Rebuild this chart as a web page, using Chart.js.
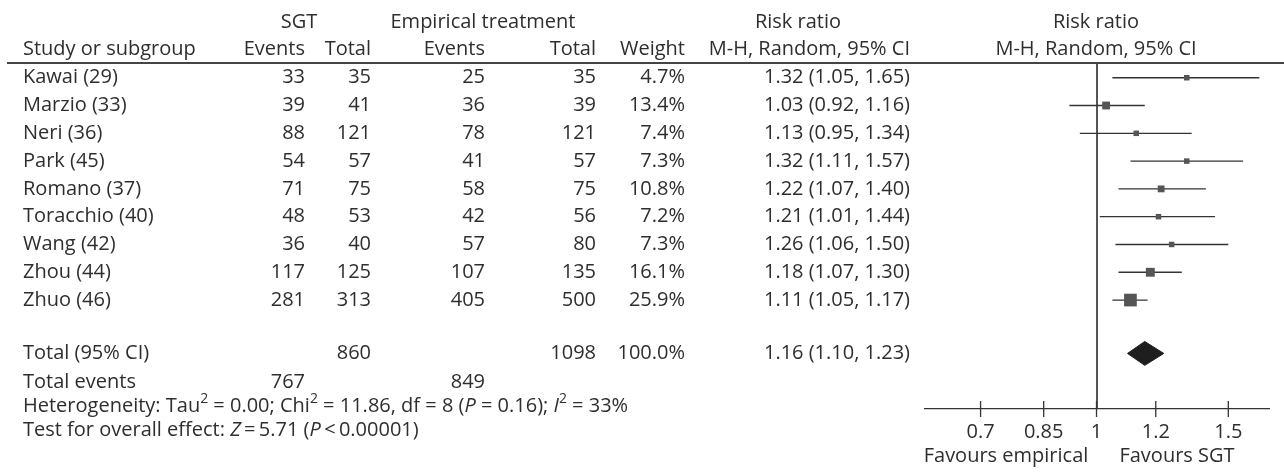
<!DOCTYPE html>
<html>
<head>
<meta charset="utf-8">
<script src="https://cdn.jsdelivr.net/npm/chart.js@4.4.1/dist/chart.umd.min.js"></script>
<style>
  html, body { margin: 0; padding: 0; background: #fff; }
</style>
</head>
<body>
<canvas id="forest" width="1284" height="472"></canvas>
<script>
// study rows
const studies = ['Kawai (29)', 'Marzio (33)', 'Neri (36)', 'Park (45)', 'Romano (37)',
  'Toracchio (40)', 'Wang (42)', 'Zhou (44)', 'Zhuo (46)'];
const sgtEvents = [33, 39, 88, 54, 71, 48, 36, 117, 281];
const sgtTotal = [35, 41, 121, 57, 75, 53, 40, 125, 313];
const empEvents = [25, 36, 78, 41, 58, 42, 57, 107, 405];
const empTotal = [35, 39, 121, 57, 75, 56, 80, 135, 500];
const weights = [4.7, 13.4, 7.4, 7.3, 10.8, 7.2, 7.3, 16.1, 25.9];
const riskRatio = [1.32, 1.03, 1.13, 1.32, 1.22, 1.21, 1.26, 1.18, 1.11];
const ciLow = [1.05, 0.92, 0.95, 1.11, 1.07, 1.01, 1.06, 1.07, 1.05];
const ciHigh = [1.65, 1.16, 1.34, 1.57, 1.40, 1.44, 1.50, 1.30, 1.17];

// pooled result: [rr, low, high], totals
const pooled = [1.16, 1.10, 1.23];
const totals = [860, 1098];
const totalEvents = [767, 849];

const xTicks = [0.7, 0.85, 1, 1.2, 1.5];

const FONT = '"Open Sans", sans-serif';
const TEXT = '#2e2e2e';
const TOTAL_ROW = 10.92;   // y value of the pooled row
const Y_MIN = 0.47, Y_MAX = 12.92;

const fmt2 = v => v.toFixed(2);
const ciText = (r, l, h) => fmt2(r) + ' (' + fmt2(l) + ', ' + fmt2(h) + ')';

// draw a line of text made of plain / italic / superscript pieces
function drawRich(ctx, parts, x, y) {
  parts.forEach(([txt, st]) => {
    ctx.font = (st === 'i' ? 'italic ' : '') + (st === 's' ? '14px ' : '20px ') + FONT;
    ctx.fillText(txt, x, st === 's' ? y - 7 : y);
    x += ctx.measureText(txt).width;
  });
}

const tablePlugin = {
  id: 'tableText',
  afterDraw(chart) {
    const ctx = chart.ctx;
    const y = chart.scales.y;
    const area = chart.chartArea;
    ctx.save();
    ctx.fillStyle = TEXT;
    ctx.textBaseline = 'middle';
    ctx.font = '20px ' + FONT;

    const txt = (s, x, yy, align) => { ctx.textAlign = align; ctx.fillText(s, x, yy); };

    // header
    const h1 = 22, h2 = 49;
    txt('SGT', 299, h1, 'center');
    txt('Empirical treatment', 483, h1, 'center');
    txt('Risk ratio', 798, h1, 'center');
    txt('Risk ratio', area.left + 171, h1, 'center');
    txt('Study or subgroup', 23, h2, 'left');
    txt('Events', 305, h2, 'right');
    txt('Total', 371, h2, 'right');
    txt('Events', 485, h2, 'right');
    txt('Total', 596, h2, 'right');
    txt('Weight', 685, h2, 'right');
    txt('M-H, Random, 95% CI', 910, h2, 'right');
    txt('M-H, Random, 95% CI', area.left + 171, h2, 'center');

    // rule under header
    ctx.strokeStyle = '#444';
    ctx.lineWidth = 2;
    ctx.beginPath();
    ctx.moveTo(7, area.top);
    ctx.lineTo(chart.width, area.top);
    ctx.stroke();

    // study rows
    studies.forEach((name, i) => {
      const py = y.getPixelForValue(i + 1);
      txt(name, 23, py, 'left');
      txt(String(sgtEvents[i]), 305, py, 'right');
      txt(String(sgtTotal[i]), 371, py, 'right');
      txt(String(empEvents[i]), 485, py, 'right');
      txt(String(empTotal[i]), 596, py, 'right');
      txt(weights[i].toFixed(1) + '%', 685, py, 'right');
      txt(ciText(riskRatio[i], ciLow[i], ciHigh[i]), 910, py, 'right');
    });

    // pooled
    const ty = y.getPixelForValue(TOTAL_ROW);
    txt('Total (95% CI)', 23, ty, 'left');
    txt(String(totals[0]), 371, ty, 'right');
    txt(String(totals[1]), 596, ty, 'right');
    txt('100.0%', 685, ty, 'right');
    txt(ciText(pooled[0], pooled[1], pooled[2]), 910, ty, 'right');

    const ey = 382;
    txt('Total events', 23, ey, 'left');
    txt(String(totalEvents[0]), 305, ey, 'right');
    txt(String(totalEvents[1]), 485, ey, 'right');

    ctx.textAlign = 'left';
    drawRich(ctx, [['Heterogeneity: Tau', 'n'], ['2', 's'], [' = 0.00; Chi', 'n'], ['2', 's'],
      [' = 11.86, df = 8 (', 'n'], ['P', 'i'], [' = 0.16); ', 'n'],
      ['I', 'i'], ['2', 's'], [' = 33%', 'n']], 23, 406);
    drawRich(ctx, [['Test for overall effect: ', 'n'], ['Z', 'i'], ['\u2009=\u20095.71 (', 'n'],
      ['P', 'i'], ['\u2009<\u20090.00001)', 'n']], 23, 430);

    // favours labels
    ctx.font = '20px ' + FONT;
    txt('Favours empirical', area.left + 81, 456, 'center');
    txt('Favours SGT', area.left + 252, 456, 'center');
    ctx.restore();
  }
};

const ciSets = studies.map((s, i) => ({
  type: 'line',
  data: [{ x: ciLow[i], y: i + 1 }, { x: ciHigh[i], y: i + 1 }],
  borderColor: '#333',
  borderWidth: 1.3,
  pointRadius: 0,
  order: 2
}));

// square side grows with weight
const boxSide = w => Math.max(5.5, 2.6 + 0.39 * w);

const dh = 0.43; // half height of pooled diamond, in rows
const datasets = [
  {
    type: 'scatter',
    data: riskRatio.map((v, i) => ({ x: v, y: i + 1 })),
    pointStyle: 'rect',
    pointRadius: weights.map(w => boxSide(w) / Math.SQRT2),
    backgroundColor: '#555',
    borderWidth: 0,
    order: 0
  },
  {
    type: 'line',
    data: [
      { x: pooled[1], y: TOTAL_ROW },
      { x: pooled[0], y: TOTAL_ROW - dh },
      { x: pooled[2], y: TOTAL_ROW },
      { x: pooled[0], y: TOTAL_ROW + dh },
      { x: pooled[1], y: TOTAL_ROW }
    ],
    borderColor: '#1e1e1e',
    borderWidth: 1,
    backgroundColor: '#1e1e1e',
    fill: 'shape',
    pointRadius: 0,
    tension: 0,
    order: 0
  },
  {
    type: 'scatter',
    data: xTicks.map(t => ({ x: t, y: Y_MAX })),
    pointStyle: 'line',
    rotation: 90,
    pointRadius: 8,
    borderColor: '#333',
    borderWidth: 1.3,
    clip: false,
    order: 0
  },
  ...ciSets
];

new Chart(document.getElementById('forest'), {
  type: 'scatter',
  data: { datasets },
  options: {
    responsive: false,
    animation: false,
    events: [],
    layout: { padding: { left: 925, right: 15, top: 63, bottom: 0 } },
    plugins: { legend: { display: false }, tooltip: { enabled: false } },
    scales: {
      x: {
        type: 'logarithmic',
        min: 0.59,
        max: 1.7,
        afterBuildTicks: s => { s.ticks = xTicks.map(v => ({ value: v })); },
        afterFit: s => { s.height = 63; },
        border: { display: true, color: '#333', width: 1.3 },
        grid: {
          drawTicks: false,
          color: c => (c.tick && c.tick.value === 1 ? '#555' : 'rgba(0,0,0,0)'),
          lineWidth: 2
        },
        ticks: {
          padding: 11,
          color: TEXT,
          font: { family: FONT, size: 20 },
          maxRotation: 0,
          autoSkip: false,
          callback: v => String(v)
        }
      },
      y: {
        type: 'linear',
        reverse: true,
        min: Y_MIN,
        max: Y_MAX,
        display: false
      }
    }
  },
  plugins: [tablePlugin]
});
</script>
</body>
</html>
